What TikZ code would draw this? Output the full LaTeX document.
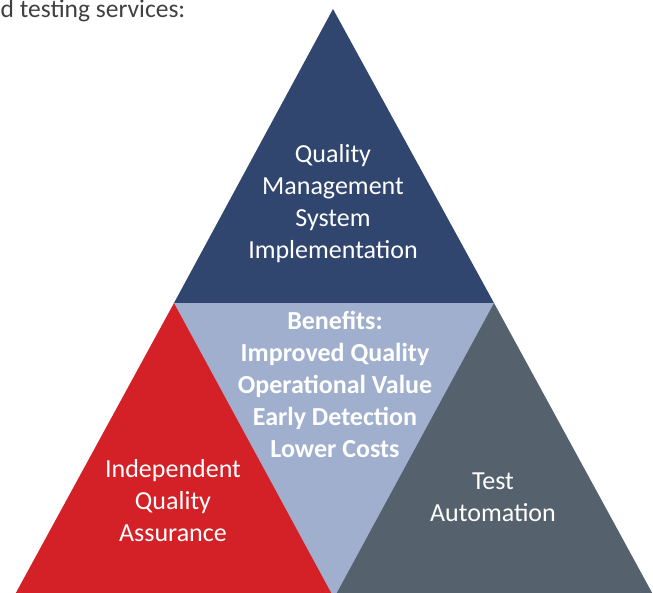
\documentclass[tikz,border=0pt]{standalone}
\usepackage{fontspec}
\setmainfont{Carlito}
\definecolor{navy}{HTML}{31466F}
\definecolor{lightblue}{HTML}{9FAFCD}
\definecolor{qared}{HTML}{D42027}
\definecolor{slate}{HTML}{56616E}
\definecolor{captiongray}{HTML}{404040}
\begin{document}
\begin{tikzpicture}[x=1pt,y=-1pt,
  label/.style={text=white,align=center,font=\fontsize{26}{32}\selectfont,inner sep=0pt},
  boldlabel/.style={label,font=\fontsize{26}{32}\selectfont\bfseries}]
\useasboundingbox (0,0) rectangle (653,592);
\clip (0,0) rectangle (653,592);
% corner points
\coordinate (apex) at (333,9);
\coordinate (ml) at (174,303);
\coordinate (mr) at (494,303);
\coordinate (mb) at (334,600);
\coordinate (rl) at (12,600);
\coordinate (rr) at (335,600);
\coordinate (gl) at (333,600);
\coordinate (gr) at (656,600);
% shapes
\fill[navy] (apex) -- (ml) -- (mr) -- cycle;
\fill[lightblue] (ml) -- (mr) -- (mb) -- cycle;
\fill[qared] (ml) -- (rl) -- (rr) -- cycle;
\fill[slate] (mr) -- (gl) -- (gr) -- cycle;
% texts
\node[anchor=base west,inner sep=0pt,text=captiongray,font=\fontsize{25.5}{32}\selectfont] (caption) at (0.5,17) {d testing services:};
\node[label] (qms) at (333,204) {Quality\\Management\\System\\Implementation};
\node[boldlabel] (benefits) at (335,384) {Benefits:\\Improved Quality\\Operational Value\\Early Detection\\Lower Costs};
\node[label] (iqa) at (173,501) {Independent\\Quality\\Assurance};
\node[label] (ta) at (493,497) {Test\\Automation};
\end{tikzpicture}
\end{document}
